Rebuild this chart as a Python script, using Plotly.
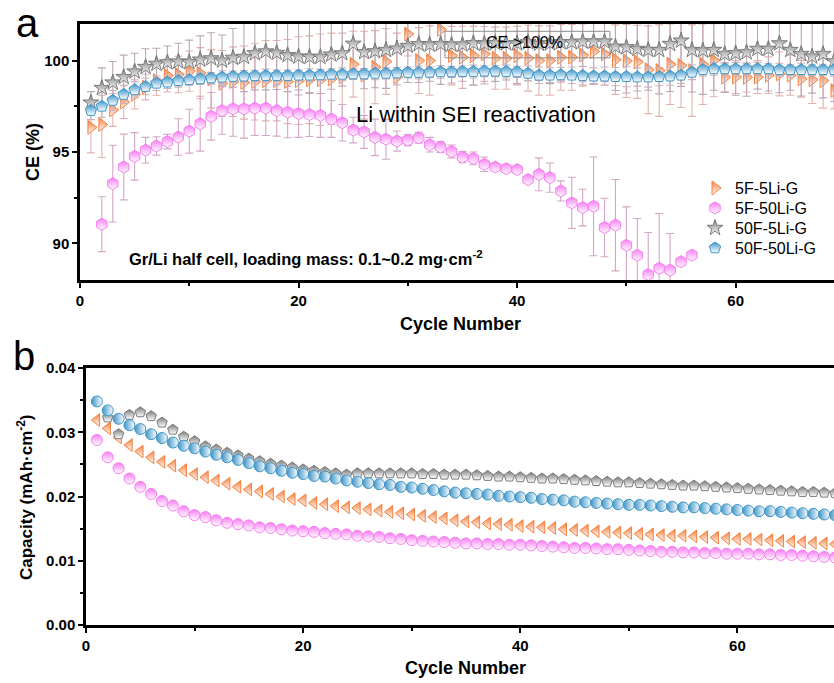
import plotly.graph_objects as go

W, H = 834, 683

# ---------------- Panel a: Coulombic efficiency ----------------
cycles = list(range(1, 70))
cycles_pink_ce = list(range(2, 57))

ce_5f5li = [96.35, 96.5, 97.3, 97.73, 98.15, 98.55, 98.9, 99.18, 99.24, 99.42,
            99.31, 99.0, 98.75, 98.85, 98.8, 98.85, 98.9, 98.9, 98.85, 98.9,
            98.95, 98.95, 99.0, 99.1, 99.8, 99.2, 99.64, 99.95, 99.1, 101.45,
            100.0, 100.0, 101.7, 100.27, 100.18, 100.27, 100.36, 100.13, 100.13, 100.27,
            100.13, 100.0, 100.0, 100.18, 100.18, 100.3, 100.5, 100.36, 100.05, 99.98,
            99.93, 99.5, 99.45, 99.8, 99.73, 99.45, 99.8, 100.02, 99.09, 99.1,
            99.08, 99.1, 99.2, 99.27, 99.2, 99.0, 98.95, 98.9, 98.36]
ce_5f5li_err = [1.4, 1.8, 0.9, 0.9, 0.8, 0.7, 0.8, 0.9, 1.0, 1.1,
                1.4, 1.6, 1.8, 1.9, 2.0, 2.1, 2.2, 2.2, 2.3, 2.4,
                2.4, 2.5, 2.5, 2.4, 1.8, 2.4, 2.0, 1.8, 2.4, 1.2,
                1.8, 1.9, 1.0, 1.6, 1.7, 1.6, 1.5, 1.7, 1.7, 1.6,
                1.8, 1.9, 1.9, 1.8, 1.8, 1.7, 1.6, 1.7, 1.9, 2.0,
                2.0, 2.4, 2.5, 2.2, 2.3, 2.5, 2.2, 2.0, 0.8, 0.9,
                0.8, 0.9, 1.0, 1.2, 1.1, 1.0, 1.3, 1.5, 1.0]

ce_5f50li = [91.05, 93.27, 94.18, 94.76, 95.1, 95.33, 95.57, 95.82, 96.14, 96.55,
             96.95, 97.27, 97.36, 97.36, 97.4, 97.4, 97.27, 97.18, 97.1, 97.05,
             97.0, 96.8, 96.6, 96.2, 96.1, 95.8, 95.7, 95.6, 95.65, 95.78,
             95.4, 95.27, 95.03, 94.72, 94.65, 94.33, 94.18, 94.09, 94.04, 93.49,
             93.78, 93.6, 92.87, 92.22, 91.96, 92.03, 90.87, 91.0, 89.9, 89.36,
             88.3, 88.64, 88.54, 89.0, 89.36]
ce_5f50li_err = [1.5, 2.1, 1.8, 1.3, 0.7, 0.5, 0.4, 1.0, 1.2, 1.5,
                 1.3, 1.3, 1.5, 1.6, 1.5, 1.5, 1.4, 1.4, 1.3, 1.2,
                 1.2, 1.0, 1.0, 0.7, 0.9, 1.0, 1.1, 0.55, 0.3, 0.3,
                 0.4, 0.3, 0.35, 0.3, 0.35, 0.4, 0.2, 0.2, 0.2, 0.1,
                 0.9, 0.8, 0.55, 1.4, 1.0, 2.7, 1.6, 2.5, 2.1, 2.0,
                 2.3, 3.0, 2.0, 0.1, 0.1]

ce_50f5li = [97.7, 98.5, 98.8, 99.1, 99.4, 99.65, 99.82, 99.9, 99.95, 99.92,
             100.05, 100.12, 100.0, 100.15, 100.2, 100.4, 100.5, 100.42, 100.3, 100.22,
             100.2, 100.2, 100.33, 100.4, 100.92, 100.46, 100.51, 100.58, 100.66, 100.8,
             100.9, 100.87, 100.9, 100.87, 100.87, 100.95, 100.92, 100.96, 100.94, 100.94,
             101.0, 100.92, 100.94, 101.0, 101.0, 101.04, 101.04, 101.04, 100.76, 100.73,
             100.64, 100.58, 100.58, 100.91, 101.09, 100.58, 100.55, 100.58, 100.36, 100.4,
             100.45, 100.64, 100.64, 100.94, 100.58, 100.36, 100.22, 100.36, 99.96]
ce_50f5li_err = [0.6, 1.1, 1.15, 1.2, 1.0, 1.0, 0.85, 0.9, 1.0, 1.2,
                 1.3, 1.4, 1.4, 1.6, 1.9, 2.0, 2.1, 2.0, 2.0, 2.1,
                 2.0, 2.0, 1.9, 1.8, 1.7, 2.0, 2.0, 2.1, 2.0, 2.0,
                 2.1, 2.0, 2.2, 2.1, 2.0, 2.3, 2.2, 2.1, 2.0, 2.2,
                 2.1, 2.0, 2.2, 2.1, 2.0, 2.2, 2.3, 2.2, 2.4, 2.5,
                 2.3, 2.2, 2.4, 2.6, 2.5, 2.3, 2.4, 2.2, 2.1, 2.3,
                 2.4, 2.2, 2.3, 2.7, 2.2, 2.3, 2.0, 2.4, 2.2]

ce_50f50li = [97.27, 97.5, 97.82, 98.15, 98.4, 98.58, 98.76, 98.82, 98.9, 98.95,
              99.0, 99.05, 99.09, 99.13, 99.15, 99.17, 99.18, 99.18, 99.18, 99.2,
              99.2, 99.22, 99.25, 99.25, 99.27, 99.27, 99.3, 99.3, 99.32, 99.35,
              99.35, 99.36, 99.38, 99.38, 99.4, 99.4, 99.42, 99.42, 99.4, 99.38,
              99.3, 99.2, 99.2, 99.22, 99.2, 99.18, 99.15, 99.15, 99.12, 99.12,
              99.1, 99.1, 99.12, 99.15, 99.2, 99.36, 99.5, 99.55, 99.55, 99.55,
              99.55, 99.55, 99.55, 99.5, 99.5, 99.5, 99.5, 99.5, 99.5]
ce_50f50li_err = [0.5, 0.6, 0.55, 0.5, 0.45, 0.45, 0.4, 0.35, 0.35, 0.3,
                  0.3, 0.3, 0.35, 0.3, 0.3, 0.3, 0.35, 0.3, 0.3, 0.3,
                  0.35, 0.3, 0.3, 0.35, 0.3, 0.3, 0.35, 0.3, 0.3, 0.3,
                  0.35, 0.3, 0.35, 0.3, 0.3, 0.35, 0.3, 0.3, 0.35, 0.3,
                  0.4, 0.45, 0.4, 0.4, 0.45, 0.5, 0.45, 0.5, 0.5, 0.55,
                  0.5, 0.55, 0.5, 0.5, 0.45, 0.4, 0.35, 0.35, 0.3, 0.35,
                  0.3, 0.35, 0.3, 0.35, 0.3, 0.35, 0.3, 0.3, 0.35]

# ---------------- Panel b: capacity ----------------
cycles_gray_cap = list(range(2, 70))

cap_5f5li = [0.0319, 0.0306, 0.0292, 0.0280, 0.0270, 0.0261, 0.0254, 0.0248, 0.0241, 0.0235,
             0.0230, 0.0225, 0.0220, 0.0215, 0.0211, 0.0208, 0.0204, 0.0200, 0.0196, 0.0194,
             0.0190, 0.0188, 0.0185, 0.0183, 0.0182, 0.0180, 0.0178, 0.0176, 0.0174, 0.0172,
             0.0170, 0.0168, 0.0166, 0.0163, 0.0161, 0.0160, 0.0158, 0.0157, 0.0156, 0.0154,
             0.0153, 0.0152, 0.0151, 0.0149, 0.0148, 0.0147, 0.0146, 0.0145, 0.0144, 0.0143,
             0.0142, 0.0141, 0.0140, 0.0139, 0.0139, 0.0138, 0.0137, 0.0136, 0.0135, 0.0134,
             0.0134, 0.0133, 0.0132, 0.0131, 0.0130, 0.0129, 0.0128, 0.0127, 0.0126]
cap_5f50li = [0.0288, 0.0261, 0.0244, 0.0228, 0.0215, 0.0204, 0.0193, 0.0186, 0.0177, 0.0171,
              0.0168, 0.0163, 0.0159, 0.0157, 0.0155, 0.0152, 0.0151, 0.0149, 0.0147, 0.0146,
              0.0145, 0.0143, 0.0142, 0.0141, 0.0139, 0.0138, 0.0137, 0.0135, 0.0134, 0.0132,
              0.0131, 0.0130, 0.0129, 0.0128, 0.0127, 0.0127, 0.0126, 0.0126, 0.0125, 0.0125,
              0.0124, 0.0123, 0.0122, 0.0121, 0.0120, 0.0120, 0.0119, 0.0118, 0.0118, 0.0117,
              0.0116, 0.0115, 0.0114, 0.0114, 0.0113, 0.0113, 0.0112, 0.0112, 0.0111, 0.0111,
              0.0111, 0.0110, 0.0110, 0.0109, 0.0109, 0.0108, 0.0107, 0.0106, 0.0105]
cap_50f5li = [0.0323, 0.0297, 0.0327, 0.0331, 0.0325, 0.0315, 0.0304, 0.0293, 0.0286, 0.0278,
              0.0273, 0.0268, 0.0264, 0.0259, 0.0255, 0.0251, 0.0248, 0.0245, 0.0242, 0.0240,
              0.0238, 0.0236, 0.0234, 0.0236, 0.0236, 0.0236, 0.0236, 0.0236, 0.0236, 0.0235,
              0.0235, 0.0234, 0.0234, 0.0234, 0.0233, 0.0232, 0.0231, 0.0231, 0.0230, 0.0229,
              0.0228, 0.0228, 0.0227, 0.0226, 0.0225, 0.0224, 0.0223, 0.0222, 0.0222, 0.0221,
              0.0220, 0.0219, 0.0218, 0.0217, 0.0217, 0.0216, 0.0215, 0.0214, 0.0213, 0.0212,
              0.0211, 0.0210, 0.0209, 0.0208, 0.0207, 0.0207, 0.0206, 0.0205]
cap_50f50li = [0.0348, 0.0334, 0.0321, 0.0311, 0.0305, 0.0297, 0.0291, 0.0284, 0.0279, 0.0275,
               0.0270, 0.0265, 0.0261, 0.0257, 0.0252, 0.0247, 0.0244, 0.0240, 0.0237, 0.0235,
               0.0232, 0.0231, 0.0228, 0.0225, 0.0223, 0.0221, 0.0219, 0.0218, 0.0215, 0.0214,
               0.0212, 0.0210, 0.0208, 0.0206, 0.0205, 0.0204, 0.0203, 0.0201, 0.0200, 0.0199,
               0.0198, 0.0196, 0.0195, 0.0194, 0.0192, 0.0191, 0.0190, 0.0189, 0.0188, 0.0187,
               0.0187, 0.0186, 0.0185, 0.0184, 0.0183, 0.0183, 0.0182, 0.0181, 0.0180, 0.0179,
               0.0178, 0.0177, 0.0177, 0.0176, 0.0175, 0.0174, 0.0173, 0.0172, 0.0171]

names = ["5F-5Li-G", "5F-50Li-G", "50F-5Li-G", "50F-50Li-G"]
ORANGE, PINK, GRAY, BLUE = "#f5803e", "#f77ef2", "#7a7a7a", "#3d95c8"
ERR = {"o": "#e2b2ae", "p": "#d2a6c6", "g": "#bca8b4", "b": "#c8b2c0"}

FONT = "Liberation Sans, Arial, sans-serif"


def px_x(px):
    return px / W


def px_y(py):
    return 1 - py / H


fig = go.Figure()


def half_marker(symbol, color, size, gtype="vertical"):
    return dict(symbol=symbol, size=size, color=color,
                gradient=dict(type=gtype, color="white"),
                line=dict(color=color, width=1))


legend_ids = ["legend", "legend2", "legend3", "legend4"]

# Panel a traces
fig.add_trace(go.Scatter(x=cycles, y=ce_5f5li, name=names[0], mode="markers", legend=legend_ids[0],
                         marker=half_marker("triangle-right", ORANGE, 12),
                         error_y=dict(type="data", array=ce_5f5li_err, color=ERR["o"], thickness=1.1, width=4),
                         xaxis="x", yaxis="y"))
fig.add_trace(go.Scatter(x=cycles_pink_ce, y=ce_5f50li, name=names[1], mode="markers", legend=legend_ids[1],
                         marker=half_marker("hexagon", PINK, 12),
                         error_y=dict(type="data", array=ce_5f50li_err, color=ERR["p"], thickness=1.1, width=4),
                         xaxis="x", yaxis="y"))
fig.add_trace(go.Scatter(x=cycles, y=ce_50f5li, name=names[2], mode="markers", legend=legend_ids[2],
                         marker=half_marker("star", GRAY, 12),
                         error_y=dict(type="data", array=ce_50f5li_err, color=ERR["g"], thickness=1.1, width=4),
                         xaxis="x", yaxis="y"))
fig.add_trace(go.Scatter(x=cycles, y=ce_50f50li, name=names[3], mode="markers", legend=legend_ids[3],
                         marker=half_marker("pentagon", BLUE, 12),
                         error_y=dict(type="data", array=ce_50f50li_err, color=ERR["b"], thickness=1.1, width=4),
                         xaxis="x", yaxis="y"))

# Panel b traces
fig.add_trace(go.Scatter(x=cycles, y=cap_5f5li, name=names[0], mode="markers", showlegend=False,
                         marker=half_marker("triangle-left", ORANGE, 11),
                         xaxis="x2", yaxis="y2"))
fig.add_trace(go.Scatter(x=cycles, y=cap_5f50li, name=names[1], mode="markers", showlegend=False,
                         marker=half_marker("circle", PINK, 11),
                         xaxis="x2", yaxis="y2"))
fig.add_trace(go.Scatter(x=cycles_gray_cap, y=cap_50f5li, name=names[2], mode="markers", showlegend=False,
                         marker=half_marker("pentagon", GRAY, 11),
                         xaxis="x2", yaxis="y2"))
fig.add_trace(go.Scatter(x=cycles, y=cap_50f50li, name=names[3], mode="markers", showlegend=False,
                         marker=half_marker("circle", BLUE, 11, "horizontal"),
                         xaxis="x2", yaxis="y2"))

tickfont = dict(family=FONT, size=15, color="black", weight="bold")
axis_common = dict(showgrid=False, zeroline=False, showline=True, linecolor="black", linewidth=2.5,
                   ticks="outside", ticklen=5, tickwidth=2, tickcolor="black", tickfont=tickfont,
                   automargin=False)

legend_rows = [188, 208, 228, 248]
legends = {}
for lid, row in zip(legend_ids, legend_rows):
    legends[lid] = dict(x=px_x(695), y=px_y(row), xanchor="left", yanchor="middle",
                        font=dict(family=FONT, size=16, color="black"), bgcolor="rgba(0,0,0,0)",
                        itemsizing="trace")

fig.update_layout(
    width=W, height=H, margin=dict(l=0, r=0, t=0, b=0, autoexpand=False),
    paper_bgcolor="white", plot_bgcolor="white",
    xaxis=dict(domain=[px_x(80), 1], range=[0, 69.0], tickvals=[0, 20, 40, 60], mirror=True,
               minor=dict(tickvals=[10, 30, 50], ticklen=3, tickwidth=2, tickcolor="black", ticks="outside"),
               anchor="y", **axis_common),
    yaxis=dict(domain=[px_y(280), px_y(24)], range=[88, 102], tickvals=[90, 95, 100],
               minor=dict(tickvals=[92.5, 97.5], ticklen=3, tickwidth=2, tickcolor="black", ticks="outside"),
               anchor="x", **axis_common),
    xaxis2=dict(domain=[px_x(86), 1], range=[0, 68.9], tickvals=[0, 20, 40, 60], mirror=True,
                minor=dict(tickvals=[10, 30, 50], ticklen=3, tickwidth=2, tickcolor="black", ticks="outside"),
                anchor="y2", **axis_common),
    yaxis2=dict(domain=[px_y(625), px_y(368)], range=[0, 0.04], tickvals=[0, 0.01, 0.02, 0.03, 0.04],
                tickformat=".2f",
                minor=dict(tickvals=[0.005, 0.015, 0.025, 0.035], ticklen=3, tickwidth=2, tickcolor="black", ticks="outside"),
                anchor="x2", **axis_common),
    **legends,
)

ann = []


def add_text(text, px, py, size, bold=False, angle=0, xanchor="center", yanchor="middle"):
    ann.append(dict(text=text, x=px_x(px), y=px_y(py), xref="paper", yref="paper",
                    showarrow=False, textangle=angle, xanchor=xanchor, yanchor=yanchor, borderpad=0,
                    font=dict(family=FONT, size=size, color="black", weight="bold" if bold else "normal")))


add_text("a", 27, 0, 40, yanchor="top")
add_text("b", 24, 356, 40)
add_text("CE (%)", 33, 152, 18, bold=True, angle=-90)
add_text("Capacity (mAh·cm<sup>-2</sup>)", 25, 497, 17, bold=True, angle=-90)
add_text("Cycle Number", 460, 324, 18, bold=True)
add_text("Cycle Number", 465, 668, 18, bold=True)
add_text("Li within SEI reactivation", 476, 114, 22)
add_text("CE >100%", 524, 42, 16)
add_text("Gr/Li half cell, loading mass: 0.1~0.2 mg·cm<sup>-2</sup>", 128, 258, 16.5, bold=True, xanchor="left")

fig.update_layout(annotations=ann)

fig.add_shape(type="rect", xref="x", yref="y", x0=33.4, x1=48.5, y0=100.15, y1=101.6,
              line=dict(color="#8c8c8c", width=1), fillcolor="rgba(0,0,0,0)")

fig.write_html("out.html")
